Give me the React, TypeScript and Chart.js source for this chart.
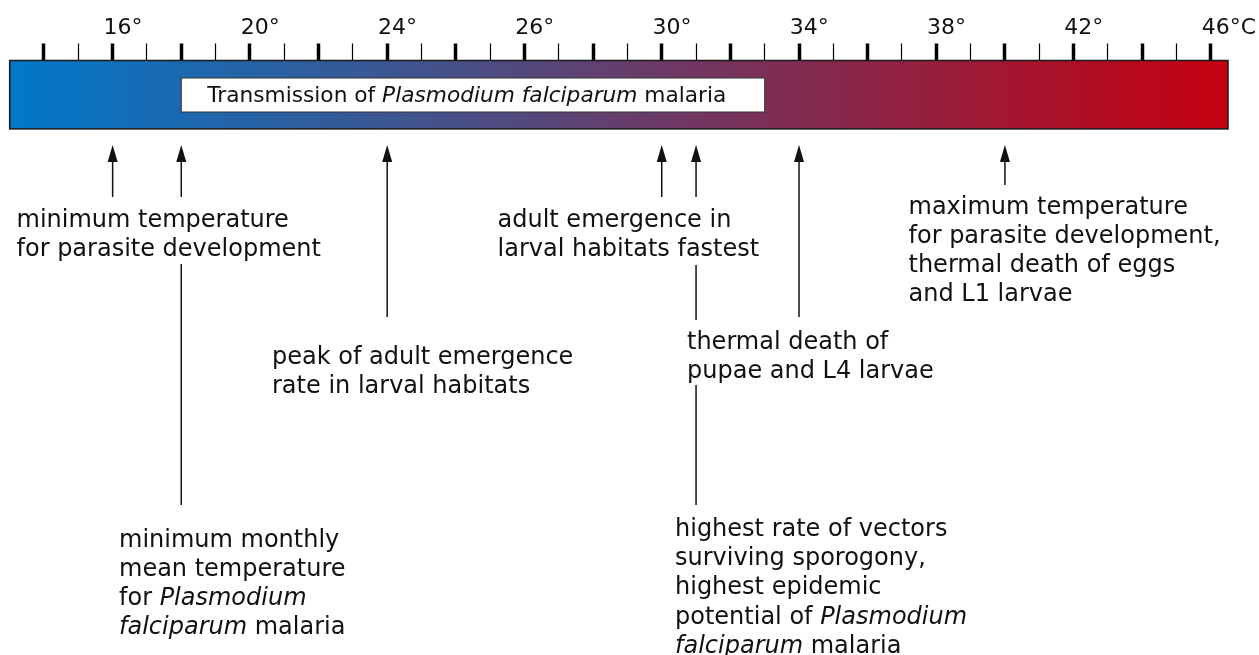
import { useEffect, useRef } from 'react';
import { Chart, registerables } from 'chart.js';

Chart.register(...registerables);

// Scale in tick units: one unit per tick mark, major (thick) ticks on even units.
const tickValues = [14, 15, 16, 17, 18, 19, 20, 21, 22, 23, 24, 25, 26, 27, 28, 29, 30, 31, 32, 33, 34, 35, 36, 37, 38, 39, 40, 41, 42, 43, 44, 45, 46, 47, 48];
const labelValues = [16, 20, 24, 28, 32, 36, 40, 44, 48];
const labelTexts = ['16°', '20°', '24°', '26°', '30°', '34°', '38°', '42°', '46°C'];

// Gradient band and the title box (in scale units)
const bandRange = [13, 48.5];
const titleBoxRange = [18, 35];
const titleText = 'Transmission of _Plasmodium falciparum_ malaria';

// Arrow positions (scale units)
const arrowValues = [16, 18, 24, 32, 33, 36, 42];

// Annotation texts (underscores mark italic runs)
const textMinTemp = ['minimum temperature', 'for parasite development'];
const textFastest = ['adult emergence in', 'larval habitats fastest'];
const textMaxTemp = ['maximum temperature', 'for parasite development,', 'thermal death of eggs', 'and L1 larvae'];
const textPeak = ['peak of adult emergence', 'rate in larval habitats'];
const textPupae = ['thermal death of', 'pupae and L4 larvae'];
const textMonthly = ['minimum monthly', 'mean temperature', 'for _Plasmodium_', '_falciparum_ malaria'];
const textSporogony = ['highest rate of vectors', 'surviving sporogony,', 'highest epidemic', 'potential of _Plasmodium_', '_falciparum_ malaria'];

// ---- layout (pixels) ----
const FONT = '"DejaVu Sans", Verdana, sans-serif';
const INK = '#111';
const ARROW_TIP = 145;
const HEAD_H = 17;
const HEAD_W = 10;
// shaft bottom for each arrow (same order as arrowValues)
const arrowEnds = [197, 197, 317, 197, 197, 317, 185];
// extra connector segments: [arrow index, yStart, yEnd]
const connectors: [number, number, number][] = [
  [1, 264, 505],
  [4, 265, 320],
  [4, 385, 505],
];
const textBlocks: { lines: string[]; x: number; y: number }[] = [
  { lines: textMinTemp, x: 16.5, y: 226.7 },
  { lines: textFastest, x: 497.5, y: 226.7 },
  { lines: textMaxTemp, x: 908.5, y: 213.5 },
  { lines: textPeak, x: 272, y: 363.5 },
  { lines: textPupae, x: 687, y: 348.5 },
  { lines: textMonthly, x: 119, y: 546.7 },
  { lines: textSporogony, x: 675, y: 536 },
];
const LINE_H = 29.2;

function drawRich(ctx: CanvasRenderingContext2D, text: string, x: number, y: number, size: number) {
  const parts = text.split('_');
  let cx = x;
  parts.forEach((p, i) => {
    if (!p) return;
    ctx.font = `${i % 2 === 1 ? 'italic ' : ''}${size}px ${FONT}`;
    ctx.fillText(p, cx, y);
    cx += ctx.measureText(p).width;
  });
}

const drawPlugin = {
  id: 'malariaScale',
  afterDraw(chart: any) {
    const ctx: CanvasRenderingContext2D = chart.ctx;
    const xs = chart.scales.x;
    const top = chart.chartArea.top;
    const bandBottom = top + 68.4;
    ctx.save();

    // gradient band
    const x0 = xs.getPixelForValue(bandRange[0]);
    const x1 = xs.getPixelForValue(bandRange[1]);
    const g = ctx.createLinearGradient(x0, 0, x1, 0);
    g.addColorStop(0, '#0079c9');
    g.addColorStop(0.33, '#3f548f');
    g.addColorStop(0.5, '#653e6d');
    g.addColorStop(1, '#c6000f');
    ctx.fillStyle = g;
    ctx.fillRect(x0, top, x1 - x0, bandBottom - top);
    ctx.strokeStyle = '#1a1a1a';
    ctx.lineWidth = 1.5;
    ctx.strokeRect(x0, top, x1 - x0, bandBottom - top);

    // title box
    const bx0 = xs.getPixelForValue(titleBoxRange[0]);
    const bx1 = xs.getPixelForValue(titleBoxRange[1]);
    ctx.fillStyle = '#fff';
    ctx.fillRect(bx0, top + 17.5, bx1 - bx0, 34);
    ctx.strokeStyle = '#333';
    ctx.lineWidth = 1;
    ctx.strokeRect(bx0, top + 17.5, bx1 - bx0, 34);
    ctx.fillStyle = INK;
    ctx.textBaseline = 'alphabetic';
    ctx.textAlign = 'left';
    drawRich(ctx, titleText, bx0 + 26, top + 41.8, 21.7);

    // arrows
    ctx.strokeStyle = INK;
    ctx.fillStyle = INK;
    ctx.lineWidth = 1.5;
    arrowValues.forEach((v, i) => {
      const px = xs.getPixelForValue(v);
      ctx.beginPath();
      ctx.moveTo(px, ARROW_TIP + HEAD_H - 2);
      ctx.lineTo(px, arrowEnds[i]);
      ctx.stroke();
      ctx.beginPath();
      ctx.moveTo(px, ARROW_TIP);
      ctx.lineTo(px - HEAD_W / 2, ARROW_TIP + HEAD_H);
      ctx.lineTo(px + HEAD_W / 2, ARROW_TIP + HEAD_H);
      ctx.closePath();
      ctx.fill();
    });
    connectors.forEach(([i, ya, yb]) => {
      const px = xs.getPixelForValue(arrowValues[i]);
      ctx.beginPath();
      ctx.moveTo(px, ya);
      ctx.lineTo(px, yb);
      ctx.stroke();
    });

    // annotation text
    ctx.fillStyle = INK;
    textBlocks.forEach((b) => {
      b.lines.forEach((ln, j) => drawRich(ctx, ln, b.x, b.y + j * LINE_H, 24));
    });
    ctx.restore();
  },
};

export default function App() {
  const ref = useRef<HTMLCanvasElement>(null);
  useEffect(() => {
    const chart = new Chart(ref.current!, {
      type: 'scatter',
      data: { datasets: [] },
      options: {
        animation: false,
        responsive: false,
        layout: { padding: { left: 9.68, right: 31, top: 12.3, bottom: 0 } },
        plugins: { legend: { display: false }, tooltip: { enabled: false } },
        scales: {
          x: {
            type: 'linear',
            position: 'top',
            min: bandRange[0],
            max: bandRange[1],
            afterBuildTicks: (s: any) => {
              s.ticks = tickValues.map((v) => ({ value: v }));
            },
            afterFit: (s: any) => {
              s.paddingLeft = 0;
              s.paddingRight = 0;
            },
            border: { display: false },
            grid: {
              drawOnChartArea: false,
              drawTicks: true,
              tickLength: 17,
              tickColor: '#000',
              tickWidth: (c: any) => (c.tick && c.tick.value % 2 === 0 ? 3.5 : 1.2),
            },
            ticks: {
              autoSkip: false,
              maxRotation: 0,
              minRotation: 0,
              align: 'start',
              labelOffset: -9.2,
              padding: 2.4,
              color: INK,
              font: { family: FONT, size: 22 },
              callback: (v: any) => {
                const i = labelValues.indexOf(Number(v));
                return i >= 0 ? labelTexts[i] : '';
              },
            },
          },
          y: { display: false, min: 0, max: 1 },
        },
      } as any,
      plugins: [drawPlugin],
    });
    return () => chart.destroy();
  }, []);
  return (
    <div style={{ position: 'fixed', left: 0, top: 0, width: 1259, height: 655, background: '#fff' }}>
      <canvas ref={ref} width={1259} height={655} style={{ display: 'block' }} />
    </div>
  );
}
